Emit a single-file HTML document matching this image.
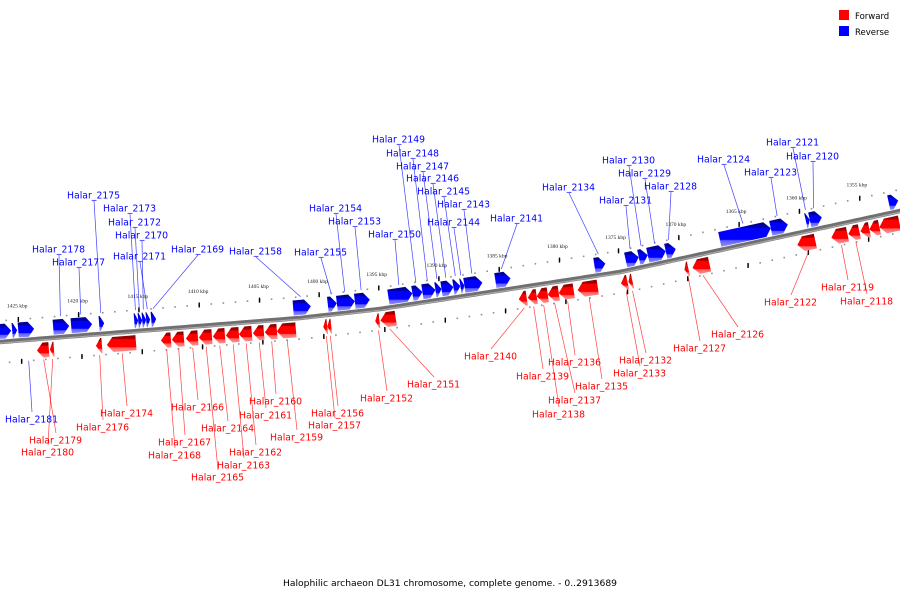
<!DOCTYPE html>
<html><head><meta charset="utf-8">
<style>
html,body{margin:0;padding:0;background:#fff;}
svg{display:block;font-family:"DejaVu Sans","Liberation Sans",sans-serif;}
</style></head>
<body>
<svg id="chart" width="900" height="600" viewBox="0 0 900 600">
<defs>
<linearGradient id="gBlue" x1="0" y1="0" x2="0" y2="1">
<stop offset="0" stop-color="#000088"/><stop offset="0.22" stop-color="#0000aa"/><stop offset="0.25" stop-color="#0000ff"/><stop offset="0.7" stop-color="#0000ff"/><stop offset="0.75" stop-color="#6060ff"/><stop offset="1" stop-color="#9090ff"/>
</linearGradient>
<linearGradient id="gRed" x1="0" y1="0" x2="0" y2="1">
<stop offset="0" stop-color="#880000"/><stop offset="0.22" stop-color="#aa0000"/><stop offset="0.25" stop-color="#ff0000"/><stop offset="0.7" stop-color="#ff0000"/><stop offset="0.75" stop-color="#ff6060"/><stop offset="1" stop-color="#ff9090"/>
</linearGradient>
</defs>
<g>
<rect x="839" y="10" width="10" height="10" fill="#ff0000"/>
<text x="855" y="19" font-size="8.5" fill="#000">Forward</text>
<rect x="839" y="26" width="10" height="10" fill="#0000ff"/>
<text x="855" y="35" font-size="8.5" fill="#000">Reverse</text>
</g>
<text x="450" y="586" font-size="9.2" text-anchor="middle" fill="#000">Halophilic archaeon DL31 chromosome, complete genome. - 0..2913689</text>
<g id="tracks"></g>
<g id="axisg"></g>
<g id="genes"></g>
<g id="labels"></g>
</svg>
<script>
// ---- data ----
const geneNames = ["","","Halar_2181","Halar_2178","Halar_2177","Halar_2175","Halar_2173","Halar_2172","Halar_2170","Halar_2171","Halar_2169","Halar_2158","Halar_2155","Halar_2154","Halar_2153","Halar_2150","Halar_2149","Halar_2148","Halar_2147","Halar_2146","Halar_2145","Halar_2144","Halar_2143","Halar_2141","Halar_2134","Halar_2131","Halar_2130","Halar_2129","Halar_2128","Halar_2124","Halar_2123","Halar_2121","Halar_2120","",
"Halar_2179","Halar_2180","Halar_2176","Halar_2174","Halar_2168","Halar_2167","Halar_2166","Halar_2165","Halar_2164","Halar_2163","Halar_2162","Halar_2161","Halar_2160","Halar_2159","Halar_2157","Halar_2156","Halar_2152","Halar_2151","Halar_2140","Halar_2139","Halar_2138","Halar_2137","Halar_2136","Halar_2135","Halar_2133","Halar_2132","Halar_2127","Halar_2126","Halar_2122","Halar_2119","Halar_2118","","",""];
const geneStartKb = [1426.66,1425.58,1425.08,1422.18,1420.69,1418.37,1415.46,1415.13,1414.80,1414.47,1414.05,1402.28,1399.38,1398.63,1397.14,1394.32,1392.33,1391.50,1390.42,1389.92,1388.93,1388.35,1388.02,1385.45,1377.24,1374.59,1373.51,1372.76,1371.27,1366.79,1362.56,1359.66,1359.33,1352.78,
1423.67,1422.60,1418.78,1417.87,1413.39,1412.48,1411.32,1410.24,1409.08,1408.00,1406.92,1405.76,1404.77,1403.77,1399.96,1399.63,1395.65,1395.23,1383.79,1383.04,1382.30,1381.38,1380.47,1378.90,1375.33,1374.75,1370.11,1369.44,1360.74,1357.92,1356.51,1355.51,1354.77,1353.94];
const geneEndKb = [1425.66,1425.17,1423.76,1420.85,1418.95,1417.95,1415.13,1414.80,1414.47,1414.14,1413.64,1400.79,1398.63,1397.14,1395.90,1392.33,1391.50,1390.42,1389.92,1388.93,1388.35,1388.02,1386.53,1384.20,1376.33,1373.51,1372.76,1371.27,1370.44,1362.56,1361.15,1359.33,1358.33,1352.00,
1422.68,1422.26,1418.28,1415.46,1412.56,1411.48,1410.32,1409.16,1408.08,1406.92,1405.85,1404.85,1403.77,1402.20,1399.63,1399.30,1395.31,1393.99,1383.13,1382.30,1381.38,1380.47,1379.23,1377.24,1374.83,1374.42,1369.78,1368.03,1359.25,1356.59,1355.60,1354.77,1353.94,1352.28];
const geneStrand = ["R","R","R","R","R","R","R","R","R","R","R","R","R","R","R","R","R","R","R","R","R","R","R","R","R","R","R","R","R","R","R","R","R","R",
"F","F","F","F","F","F","F","F","F","F","F","F","F","F","F","F","F","F","F","F","F","F","F","F","F","F","F","F","F","F","F","F","F","F"];
const tickKb = [1425,1420,1415,1410,1405,1400,1395,1390,1385,1380,1375,1370,1365,1360,1355];
const tickLabels = ["1425 kbp","1420 kbp","1415 kbp","1410 kbp","1405 kbp","1400 kbp","1395 kbp","1390 kbp","1385 kbp","1380 kbp","1375 kbp","1370 kbp","1365 kbp","1360 kbp","1355 kbp"];
// ---- layout (label placement) ----
const labelPos = {
"Halar_2181":[5,419,1],"Halar_2178":[32,249],"Halar_2177":[52,262],"Halar_2175":[67,195],"Halar_2173":[103,208],"Halar_2172":[108,222],"Halar_2170":[115,235],"Halar_2171":[113,256],"Halar_2169":[171,249],
"Halar_2158":[229,251],"Halar_2155":[294,252],"Halar_2154":[309,208],"Halar_2153":[328,221],"Halar_2150":[368,234],"Halar_2149":[372,139],"Halar_2148":[386,153],"Halar_2147":[396,166],"Halar_2146":[406,178],"Halar_2145":[417,191],"Halar_2144":[427,222],"Halar_2143":[437,204],"Halar_2141":[490,218],"Halar_2134":[542,187],"Halar_2131":[599,200],"Halar_2130":[602,160],"Halar_2129":[618,173],"Halar_2128":[644,186],"Halar_2124":[697,159],"Halar_2123":[744,172],"Halar_2121":[766,142],"Halar_2120":[786,156],
"Halar_2179":[29,440],"Halar_2180":[21,452],"Halar_2176":[76,427],"Halar_2174":[100,413],"Halar_2168":[148,455],"Halar_2167":[158,442],"Halar_2166":[171,407],"Halar_2165":[191,477],"Halar_2164":[201,428],"Halar_2163":[217,465],"Halar_2162":[229,452],"Halar_2161":[239,415],"Halar_2160":[249,401],"Halar_2159":[270,437],"Halar_2157":[308,425],"Halar_2156":[311,413],"Halar_2152":[360,398],"Halar_2151":[407,384],"Halar_2140":[464,356],"Halar_2139":[516,376],"Halar_2138":[532,414],"Halar_2137":[548,400],"Halar_2136":[548,362],"Halar_2135":[575,386],"Halar_2133":[613,373],"Halar_2132":[619,360],"Halar_2127":[673,348],"Halar_2126":[711,334],"Halar_2122":[764,302],"Halar_2119":[821,287],"Halar_2118":[840,301]};
const NS="http://www.w3.org/2000/svg";
function xOf(kb){return 20+(1425-kb)*12.06;}
const kx=[-10,0,300,380,620,780,900,910], ky=[343,342,318,309,272,237,211,209];
function axisY(x){for(let i=0;i<kx.length-1;i++){if(x<=kx[i+1]||i==kx.length-2){const t=(x-kx[i])/(kx[i+1]-kx[i]);return ky[i]+t*(ky[i+1]-ky[i]);}}}
function slope(x){return (axisY(x+3)-axisY(x-3))/6;}
function pt(x,v){const m=slope(x),L=Math.sqrt(1+m*m);return [x+(-m)*v/L, axisY(x)+v/L];}
function mk(tag,attrs,parent){const e=document.createElementNS(NS,tag);for(const k in attrs)e.setAttribute(k,attrs[k]);parent.appendChild(e);return e;}
const tracks=document.getElementById('tracks'),axg=document.getElementById('axisg'),genesG=document.getElementById('genes'),labG=document.getElementById('labels');
// axis
let d="";for(let x=-10;x<=910;x+=5){const y=axisY(x);d+=(x==-10?"M":"L")+x+","+y.toFixed(2);}
const ax1=mk('path',{d:d,stroke:'#707070','stroke-width':4.5,fill:'none'},axg);


const ax2=mk('path',{d:d,stroke:'#a8a8a8','stroke-width':1.2,fill:'none',transform:'translate(0,1.2)'},axg);


// dotted tracks
for(let kb=1427;kb>=1351;kb-=1){const x=xOf(kb);for(const v of [-21,21]){const p=pt(x,v);
 const r=mk('rect',{x:(p[0]-0.8).toFixed(2),y:(p[1]-0.8).toFixed(2),width:1.6,height:1.6,fill:'#909090'},tracks);
 
 }}
tickKb.forEach((kb,i)=>{const x=xOf(kb);for(const v of [-21,21]){const p=pt(x,v);
 const t=mk('rect',{x:(p[0]-0.7).toFixed(2),y:(p[1]-2.5).toFixed(2),width:1.4,height:5,fill:'#000'},tracks);
 
 }
 const lp=pt(x,-35);
 const tl=mk('text',{x:lp[0].toFixed(1),y:(lp[1]+2).toFixed(1),'font-size':5.5,'text-anchor':'middle',fill:'#222','font-family':'"Liberation Serif",serif'},tracks);
 tl.textContent=tickLabels[i];
 
 });
// genes
geneNames.forEach((nm,i)=>{
 const x0=xOf(geneStartKb[i]),x1=xOf(geneEndKb[i]),rev=geneStrand[i]=="R";
 const a=rev?-18:4,b=rev?-3:19,mid=(a+b)/2,len=x1-x0,h=Math.min(6,len*0.8);
 let P;
 if(rev)P=[[x0,a],[x1-h,a],[x1,mid],[x1-h,b],[x0,b]];
 else P=[[x1,a],[x0+h,a],[x0,mid],[x0+h,b],[x1,b]];
 const pts=P.map(q=>pt(q[0],q[1]).map(n=>n.toFixed(2)).join(',')).join(' ');
 const g=mk('polygon',{points:pts,fill:rev?'url(#gBlue)':'url(#gRed)'},genesG);
 
 
 if(nm&&labelPos[nm]){
  const L=labelPos[nm],col=rev?'#0000ff':'#ff0000',below=!rev||L[2];
  const gm=(x0+x1)/2,gp=pt(gm,below?21:-21);
  const ax=L[0]+27,ay=below?L[1]-7:L[1]+6;
  const ln=mk('line',{x1:gp[0].toFixed(1),y1:gp[1].toFixed(1),x2:ax,y2:ay,stroke:col,'stroke-width':0.7,'stroke-opacity':0.75},labG);
  
  
  const t=mk('text',{x:L[0],y:L[1]+3.5,'font-size':9.3,fill:col},labG);
  t.textContent=nm;
  
  
 }
});
</script>
</body></html>
